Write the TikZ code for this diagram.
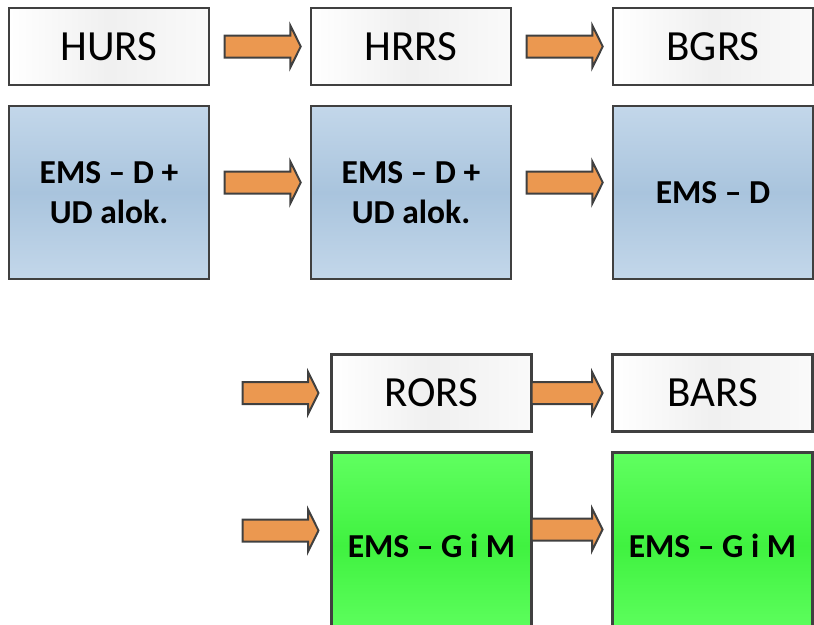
\documentclass[tikz,border=0pt]{standalone}
\usepackage{fontspec}
\setmainfont{Carlito}
\usetikzlibrary{positioning, shapes, shapes.arrows, calc}

\definecolor{boxborder}{HTML}{404040}
\definecolor{arroworange}{HTML}{EB9850}
\definecolor{bluetop}{HTML}{C3D7EA}
\definecolor{bluemid}{HTML}{A9C4DD}
\definecolor{greentop}{HTML}{60FF60}
\definecolor{greenmid}{HTML}{40F240}

\begin{document}
\begin{tikzpicture}[
    x=1pt, y=-1pt,
    node distance=21pt and 102pt,
    block/.style={draw=boxborder, line width=2.5pt, rectangle, minimum width=200pt, minimum height=77pt, inner sep=0pt, outer sep=0pt, align=center},
    title/.style={block, left color=white, right color=white!96!gray, middle color=gray!12, font=\fontsize{43}{50}\selectfont},
    dblock/.style={block, minimum height=173pt, top color=bluetop, bottom color=bluetop, middle color=bluemid, font=\fontsize{33.5}{40}\selectfont\bfseries},
    gblock/.style={dblock, minimum height=186pt, top color=greentop, bottom color=greentop, middle color=greenmid},
    fatarrow/.style={single arrow, draw=boxborder, line width=2pt, fill=arroworange, minimum width=40pt, minimum height=76pt, single arrow head extend=10pt, single arrow tip angle=127, inner xsep=0pt, inner ysep=10pt, outer sep=0pt}
]
\clip (0,0) rectangle (814,624);

% Top row
\node[title] (hurs) at (109,46.5) {HURS};
\node[title, right=of hurs] (hrrs) {HRRS};
\node[title, right=of hrrs] (bgrs) {BGRS};

% Second row
\node[dblock, below=of hurs] (dhurs) {EMS -- D +\\UD alok.};
\node[dblock, below=of hrrs] (dhrrs) {EMS -- D +\\UD alok.};
\node[dblock, below=of bgrs] (dbgrs) {EMS -- D};

% Lower rows
\node[title] (rors) at (431.5,393) {RORS};
\node[title, right=81pt of rors] (bars) {BARS};
\node[gblock, below=of rors] (grors) {EMS -- G i M};
\node[gblock, below=of bars] (gbars) {EMS -- G i M};

% Arrows
\node[fatarrow] (a1) at ($(hurs.east)!0.5!(hrrs.west)$) {};
\node[fatarrow] (a2) at ($(hrrs.east)!0.5!(bgrs.west)$) {};
\node[fatarrow] (a3) at ($(dhurs.east)!0.5!(dhrrs.west)+(0,-10)$) {};
\node[fatarrow] (a4) at ($(dhrrs.east)!0.5!(dbgrs.west)+(0,-10)$) {};
\node[fatarrow, anchor=east] (a5) at ($(rors.west)+(-13,0)$) {};
\node[fatarrow, anchor=west, minimum height=71pt] (a6) at (rors.east) {};
\node[fatarrow, anchor=east] (a7) at ($(grors.west)+(-13,-15)$) {};
\node[fatarrow, anchor=west, minimum height=71pt] (a8) at ($(grors.east)+(0,-16)$) {};

\end{tikzpicture}
\end{document}
